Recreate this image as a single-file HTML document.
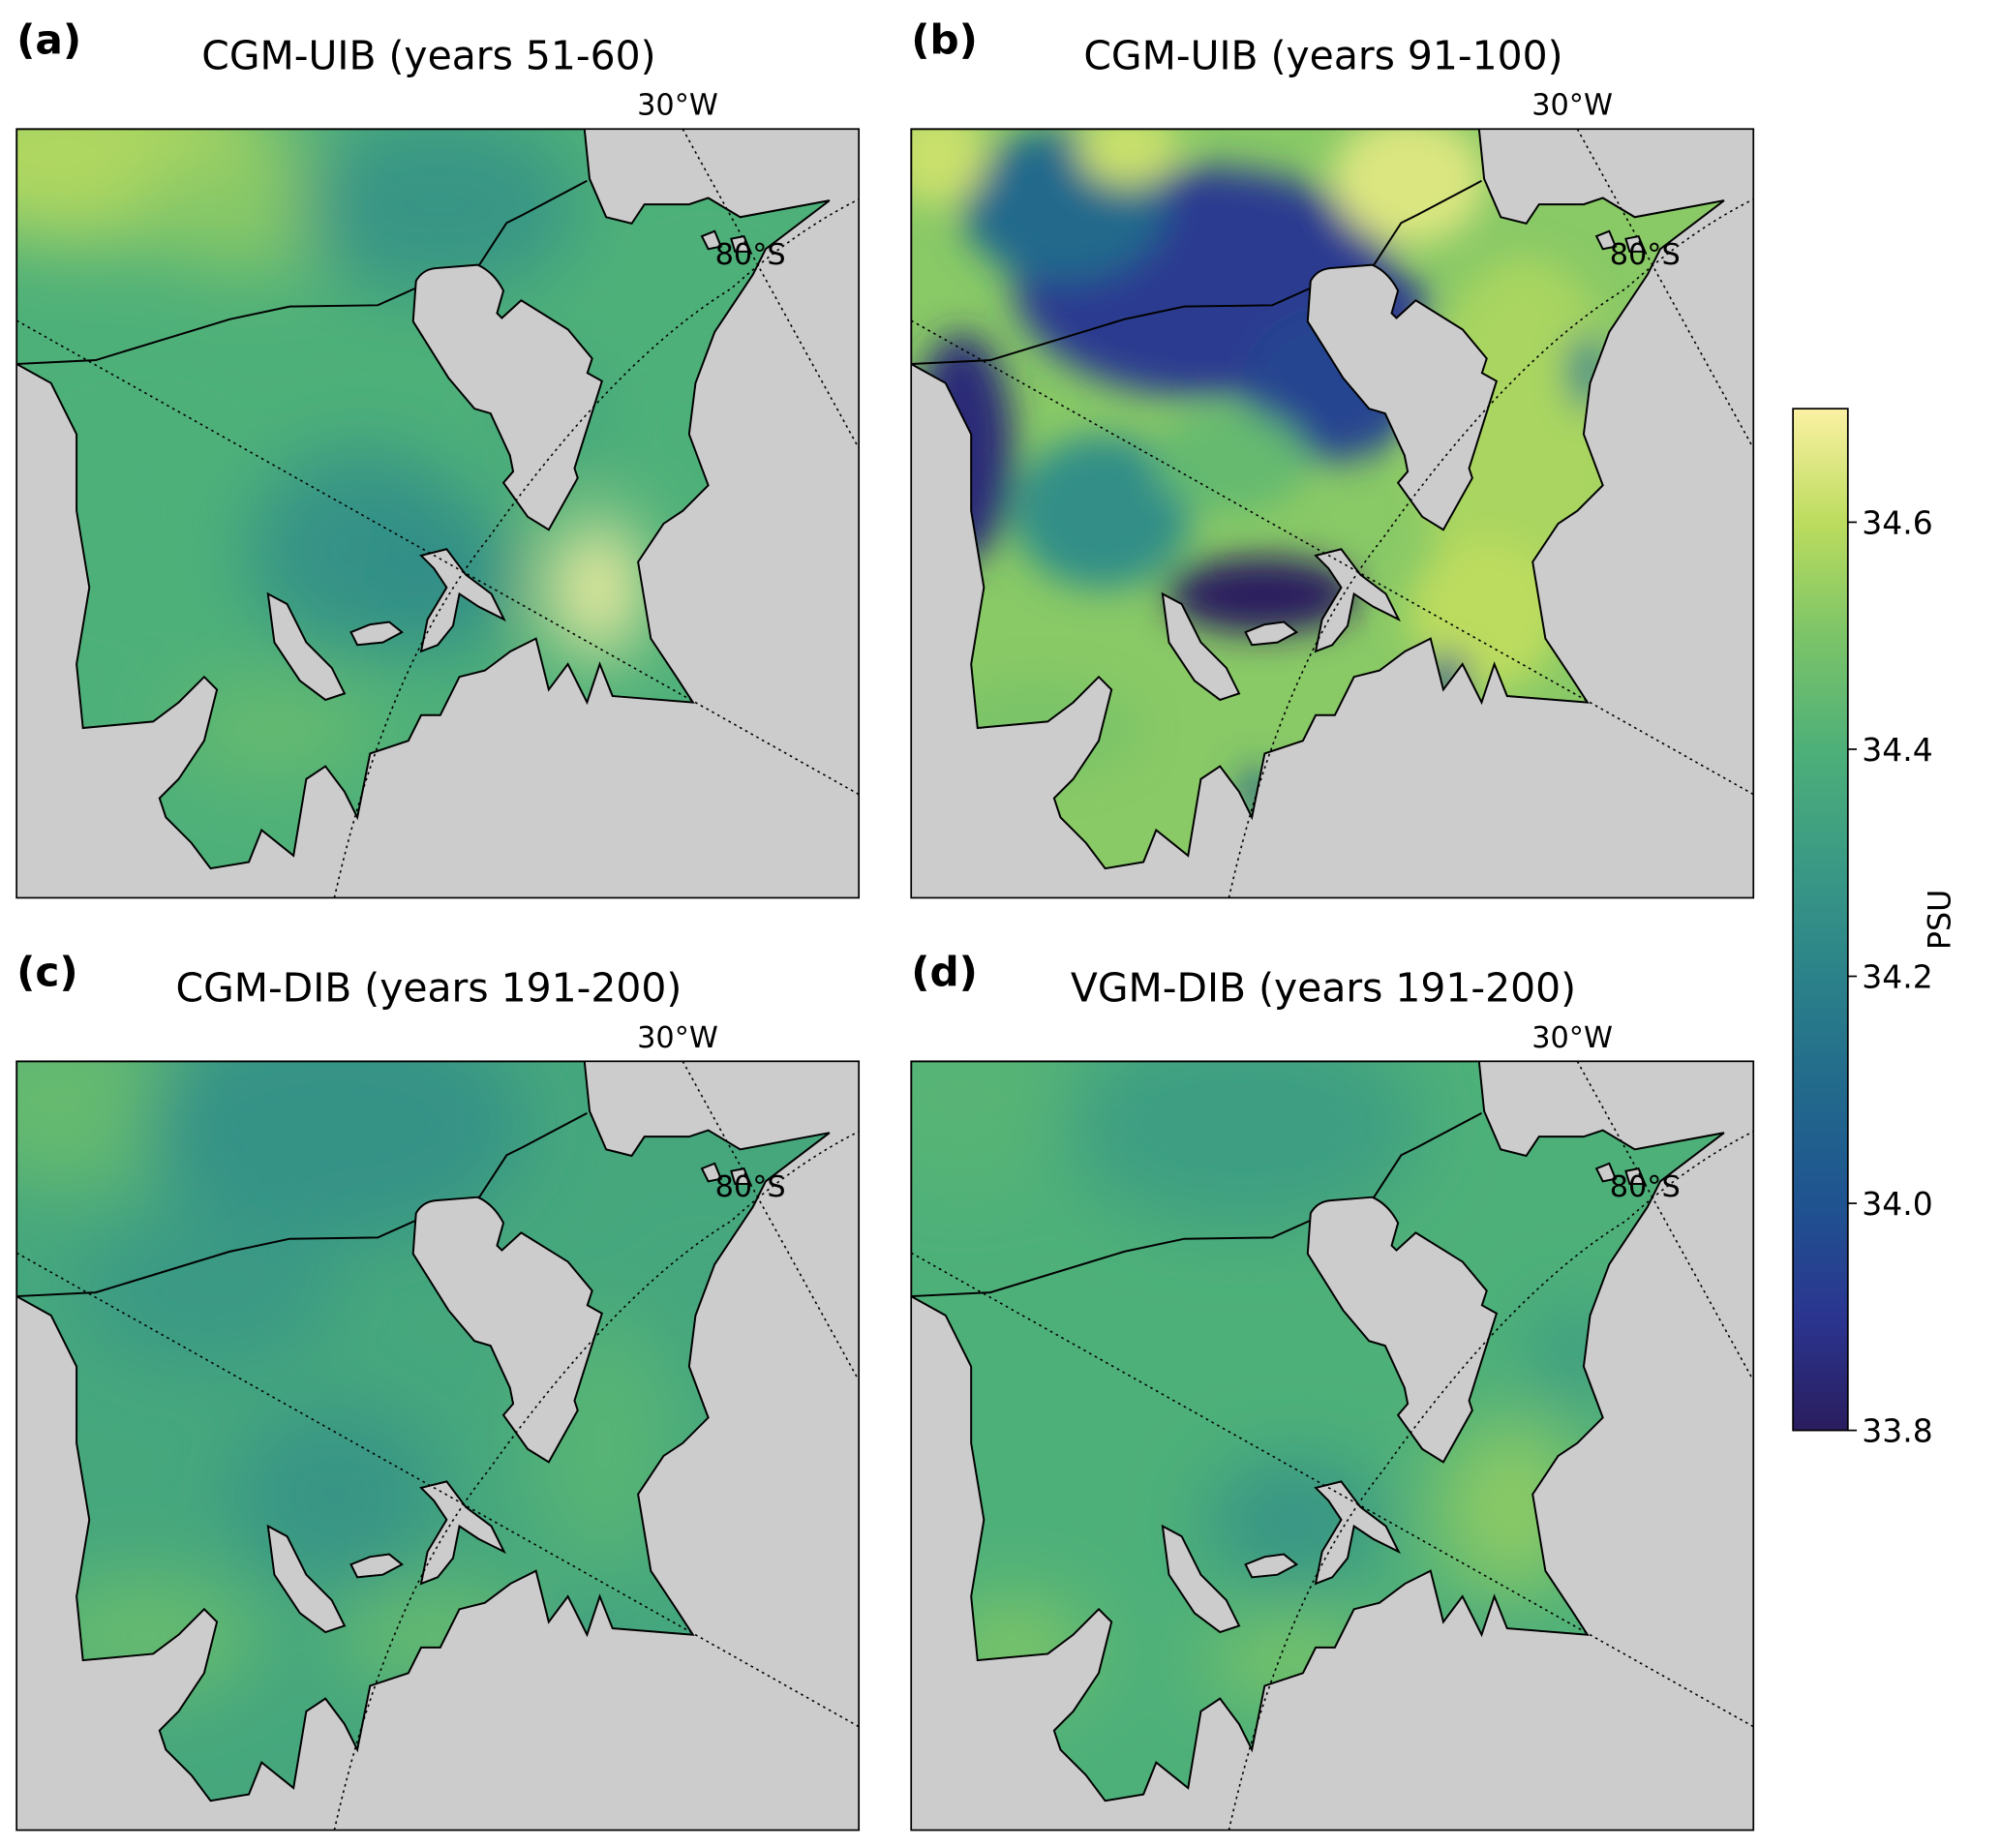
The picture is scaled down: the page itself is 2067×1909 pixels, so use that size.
<!DOCTYPE html>
<html><head><meta charset="utf-8"><style>
html,body{margin:0;padding:0;background:#fff}
svg{display:block}
text{font-family:"DejaVu Sans","Liberation Sans",sans-serif}
</style></head><body>
<svg id="fig" width="2067" height="1909" viewBox="0 0 1568 1447" preserveAspectRatio="none" xmlns="http://www.w3.org/2000/svg">
<defs>
<filter id="blur0" x="-50%" y="-50%" width="200%" height="200%"><feGaussianBlur stdDeviation="28"/></filter>
<filter id="blur1" x="-50%" y="-50%" width="200%" height="200%"><feGaussianBlur stdDeviation="14"/></filter>
<filter id="blur2" x="-50%" y="-50%" width="200%" height="200%"><feGaussianBlur stdDeviation="28"/></filter>
<filter id="blur3" x="-50%" y="-50%" width="200%" height="200%"><feGaussianBlur stdDeviation="28"/></filter>
<linearGradient id="cbgrad" x1="0" y1="1" x2="0" y2="0">
<stop offset="0" stop-color="#2a1d5e"/><stop offset="0.111" stop-color="#2b3590"/>
<stop offset="0.222" stop-color="#1f5390"/><stop offset="0.333" stop-color="#22698c"/>
<stop offset="0.444" stop-color="#2b828a"/><stop offset="0.556" stop-color="#3a9a84"/>
<stop offset="0.667" stop-color="#4eb079"/><stop offset="0.778" stop-color="#7cc468"/>
<stop offset="0.889" stop-color="#bcdc5e"/><stop offset="1" stop-color="#fbf1a3"/>
</linearGradient>
</defs>
<g id="panels"></g>
<g>
<rect x="1405" y="320" width="43" height="800" fill="url(#cbgrad)" stroke="#000" stroke-width="1.3"/>
<g id="cbticks"></g>
<text x="1528" y="720" font-size="24" text-anchor="middle" transform="rotate(-90 1528 720)">PSU</text>
</g>
</svg>
<script>
// colorbar data
const cbTicks=[33.8,34.0,34.2,34.4,34.6];
const cbMin=33.8, cbMax=34.7;
// panel data
const panelLabels=['(a)','(b)','(c)','(d)'];
const panelTitles=['CGM-UIB (years 51-60)','CGM-UIB (years 91-100)','CGM-DIB (years 191-200)','VGM-DIB (years 191-200)'];
const panelBase=[34.40,34.52,34.36,34.40];
// blobs: [x, y, rx, ry, value] in panel-local coords
const blobsA=[[60,20,150,70,34.58],[180,60,90,50,34.52],[330,60,110,70,34.28],[270,330,90,80,34.27],[330,350,60,60,34.25],[455,360,35,55,34.70],[100,300,70,60,34.40],[420,220,40,40,34.35],[540,140,40,30,34.40],[200,470,80,40,34.45]];
const blobsB=[[230,120,150,90,33.92],[120,60,80,60,34.1],[330,200,70,60,33.95],[40,250,40,90,33.85],[275,365,75,30,33.8],[150,300,70,60,34.25],[20,20,40,40,34.62],[170,15,40,30,34.62],[390,40,60,50,34.65],[480,250,80,150,34.57],[250,260,60,40,34.45],[450,380,60,60,34.6],[420,430,15,20,33.95],[270,520,12,20,34.05],[530,190,15,30,34.2],[380,140,25,25,33.9],[100,470,80,40,34.5]];
const blobsC=[[40,30,100,70,34.45],[250,50,150,90,34.27],[150,180,100,60,34.3],[250,340,80,70,34.28],[100,450,90,50,34.45],[330,450,80,40,34.45],[460,300,60,100,34.42],[540,200,30,40,34.35],[440,470,20,20,34.2]];
const blobsD=[[40,30,100,70,34.42],[260,50,140,80,34.32],[300,360,70,50,34.28],[80,460,60,40,34.5],[470,350,60,70,34.52],[300,470,70,30,34.5],[520,230,30,40,34.3],[440,470,20,20,34.2]];
const panelBlobs=[blobsA,blobsB,blobsC,blobsD];

const cmapStops=[[33.8,[42,29,94]],[33.9,[43,53,144]],[34.0,[31,83,144]],[34.1,[34,105,140]],[34.2,[43,130,138]],[34.3,[58,154,132]],[34.4,[78,176,121]],[34.5,[124,196,104]],[34.6,[188,220,94]],[34.7,[251,241,163]]];
function cmap(v){v=Math.max(33.8,Math.min(34.7,v));for(let i=0;i<cmapStops.length-1;i++){const a=cmapStops[i],b=cmapStops[i+1];if(v<=b[0]){const t=(v-a[0])/(b[0]-a[0]);const c=a[1].map((x,k)=>Math.round(x+(b[1][k]-x)*t));return `rgb(${c})`;}}return 'rgb(251,241,163)';}

const NS='http://www.w3.org/2000/svg';
function el(t,a,p){const e=document.createElementNS(NS,t);for(const k in a)e.setAttribute(k,a[k]);if(p)p.appendChild(e);return e;}

const cbg=document.getElementById('cbticks');
function cbY(v){return 1120-(v-cbMin)/(cbMax-cbMin)*800;}
cbTicks.forEach(v=>{const y=cbY(v);
 const l=el('line',{x1:1448,x2:1455,y1:y,y2:y,stroke:'#000','stroke-width':1.3},cbg);
 
 
 const t=el('text',{x:1459,y:y+9,'font-size':25},cbg);t.textContent=v.toFixed(1);
 
 
});

const shelf="M0,0 L445,0 L449,39 L462,69 L482,74 L492,59 L527,59 L542,54 L567,69 L637,56 L587,94 L577,114 L547,159 L532,199 L527,239 L542,279 L522,299 L507,309 L487,339 L497,399 L517,429 L530,449 L467,444 L457,419 L447,449 L432,419 L417,439 L407,399 L387,409 L367,424 L347,429 L332,459 L317,459 L307,479 L277,489 L267,539 L257,519 L242,499 L227,509 L222,539 L217,569 L192,549 L182,574 L152,579 L137,559 L117,539 L112,524 L127,509 L147,479 L157,439 L147,429 L127,449 L107,464 L52,469 L47,419 L57,359 L47,299 L47,239 L27,199 L0,184 Z";
const lens="M310.7,150.7 L313,119 Q318,110 328.4,109 L361.3,106.4 Q374,112 381.5,126.6 L376.5,144.3 L380.3,148 L395.4,134.2 L432.1,157 L451,179.7 L447.3,191 L458.7,197.4 L437.2,265.7 L439.7,273.3 L417,313.8 L400.5,303.6 L381.5,277 L389.1,268.2 L386.6,255.6 L371.4,222.7 L358.8,219 L338.5,195 Z";
const isl1="M197,364 L212,372 L227,402 L247,422 L257,442 L242,447 L222,432 L202,402 Z";
const isl2="M317,334 L337,329 L352,349 L372,364 L382,384 L362,374 L347,364 L342,389 L330,404 L317,409 L322,384 L337,359 L327,344 Z";
const isl3="M262,394 L277,388 L292,386 L302,394 L287,402 L267,404 Z";
const isl4="M537,84 L547,80 L552,92 L542,94 Z M560,86 L570,84 L575,96 L563,96 Z";
const front="M0,184 L62,181 L167,149 L214,139 L283,138 L312,125 M362.6,106.4 L384,73.5 L396.7,67.2 L447,40.6";
const dot1="M0,150 L660,521";
const dot2="M249,602 Q290,420 370,320 Q470,180 560,125 Q610,80 660,55";
const dot3="M522,0 L660,250";

const origins=[[13,101],[714,101],[13,831],[714,831]];
const root=document.getElementById('panels');
origins.forEach((o,i)=>{
 const g=el('g',{transform:`translate(${o[0]},${o[1]})`},root);
 
 
 const cp=el('clipPath',{id:'clip'+i},g);el('path',{d:shelf},cp);
 const cpa=el('clipPath',{id:'ax'+i},g);el('rect',{x:0,y:0,width:660,height:602},cpa);
 el('rect',{x:0,y:0,width:660,height:602,fill:'#cccccc'},g);
 const field=el('g',{'clip-path':`url(#clip${i})`},g);
 
 
 el('rect',{x:0,y:0,width:660,height:602,fill:cmap(panelBase[i])},field);
 const bg=el('g',{filter:`url(#blur${i})`},field);
 panelBlobs[i].forEach(b=>{const e=el('ellipse',{cx:b[0],cy:b[1],rx:b[2],ry:b[3],fill:cmap(b[4])},bg);
  
  });
 [lens,isl1,isl2,isl3,isl4].forEach(d=>el('path',{d:d,fill:'#cccccc',stroke:'#000','stroke-width':1.5},g));
 el('path',{d:shelf,fill:'none',stroke:'#000','stroke-width':1.5,'clip-path':`url(#ax${i})`},g);
 el('path',{d:front,fill:'none',stroke:'#000','stroke-width':1.5},g);
 const gl=el('g',{'clip-path':`url(#ax${i})`,fill:'none',stroke:'#000','stroke-width':1.2,'stroke-dasharray':'2,3'},g);
 
 
 [dot1,dot2,dot3].forEach(d=>el('path',{d:d},gl));
 el('rect',{x:0,y:0,width:660,height:602,fill:'none',stroke:'#000','stroke-width':1.3},g);
 const lab=el('text',{x:518,y:-11,'font-size':23,'text-anchor':'middle'},g);lab.textContent='30°W';
 
 
 const lat=el('text',{x:575,y:106,'font-size':23,'text-anchor':'middle'},g);lat.textContent='80°S';
 
 
 const pl=el('text',{x:0,y:-59,'font-size':32,'font-weight':'bold'},g);pl.textContent=panelLabels[i];
 
 
 const tt=el('text',{x:323,y:-47,'font-size':31,'text-anchor':'middle'},g);tt.textContent=panelTitles[i];
 
 
});
</script>
</body></html>
